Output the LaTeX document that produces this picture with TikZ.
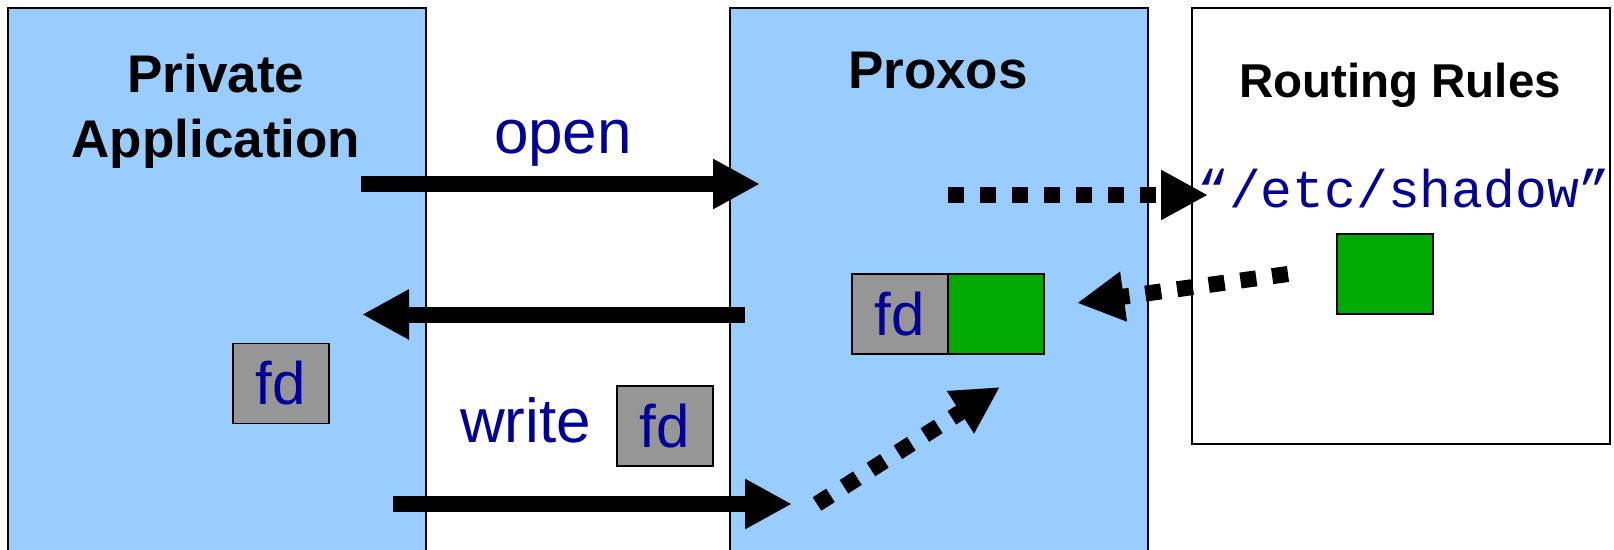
\documentclass[tikz,border=0pt]{standalone}
\usepackage{fontspec}
\setmainfont{Liberation Sans}
\newfontfamily\codefont{Liberation Mono}
\usetikzlibrary{arrows.meta}

\definecolor{appblue}{HTML}{99CCFF}
\definecolor{fdgray}{HTML}{969696}
\definecolor{rulegreen}{HTML}{00AA00}
\definecolor{msgblue}{HTML}{000099}

\tikzset{
  panel/.style={draw=black, line width=2pt, anchor=north west, inner sep=0pt},
  heading/.style={font=\fontsize{53}{65}\selectfont\bfseries, align=center, inner sep=0pt},
  msg/.style={text=msgblue, font=\fontsize{62}{70}\selectfont, inner sep=0pt, anchor=base},
  fdbox/.style={draw=black, line width=1.5pt, fill=fdgray, minimum width=96pt,
    minimum height=80pt, inner sep=0pt, text=msgblue, font=\fontsize{60}{70}\selectfont},
  databox/.style={draw=black, line width=1.5pt, fill=rulegreen, minimum width=96pt,
    minimum height=80pt, inner sep=0pt},
  call/.style={line width=16pt, -{Triangle[length=47pt,width=47pt]}},
  lookup/.style={call, dash pattern=on 16pt off 16pt},
}

\begin{document}
\begin{tikzpicture}[x=1pt, y=-1pt]
  \useasboundingbox (0,0) rectangle (1614,549);
  \clip (0,0) rectangle (1614,549);

  % the three panels
  \node[panel, fill=appblue, minimum width=418pt, minimum height=560pt] (app) at (7,7) {};
  \node[panel, fill=appblue, minimum width=418pt, minimum height=560pt] (proxos) at (729,7) {};
  \node[panel, fill=white, minimum width=418pt, minimum height=436pt] (rules) at (1191,7) {};

  % panel headings
  \node[heading, anchor=north] (apptitle) at (216,54) {Private\\Application};
  \node[heading, anchor=base] (proxostitle) at (938,88) {Proxos};
  \node[heading, anchor=base, font=\fontsize{47.5}{57}\selectfont\bfseries] (rulestitle) at (1400,97) {Routing Rules};

  % descriptors and rule data
  \node[fdbox] (appfd) at (281,383.5) {fd};
  \node[fdbox] (writefd) at (665,426) {fd};
  \node[fdbox] (proxfd) at (900,314) {fd};
  \node[databox] (proxdata) at (996,314) {};
  \node[databox] (ruledata) at (1385,274) {};

  % call labels
  \node[msg] (openlbl) at (563,153) {open};
  \node[msg, anchor=base west] (writelbl) at (460,442) {write};
  \node[text=msgblue, font={\fontsize{53}{60}\selectfont\codefont}, inner sep=0pt, anchor=base]
    (pathlbl) at (1404,207) {“/etc/shadow”};

  % arrow end points
  \coordinate (openA) at (361,184);
  \coordinate (openB) at (760,184);
  \coordinate (retA) at (745,314.5);
  \coordinate (retB) at (362,314.5);
  \coordinate (wrA) at (393,504);
  \coordinate (wrB) at (792,504);
  \coordinate (lookA) at (948,195);
  \coordinate (lookB) at (1208,195);
  \coordinate (ansA) at (1288,274);
  \coordinate (ansB) at (1077,303);
  \coordinate (useA) at (817,504);
  \coordinate (useB) at (1000,387);

  % system calls
  \draw[call] (openA) -- (openB);
  \draw[call] (retA) -- (retB);
  \draw[call] (wrA) -- (wrB);

  % rule lookups
  \draw[lookup] (lookA) -- (lookB);
  \draw[lookup] (ansA) -- (ansB);
  \draw[lookup] (useA) -- (useB);
\end{tikzpicture}
\end{document}
